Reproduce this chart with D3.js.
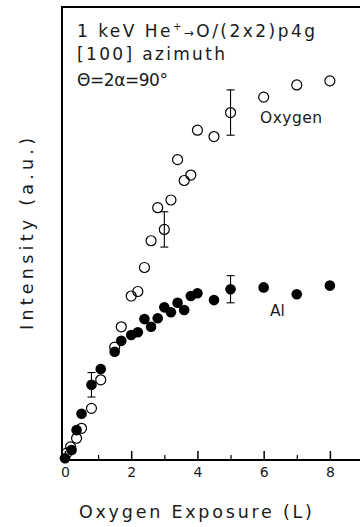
<!DOCTYPE html>
<html>
<head>
<meta charset="utf-8">
<script src="https://cdn.jsdelivr.net/npm/d3@7"></script>
<style>
  body { margin: 0; background: #fff; }
  svg { display: block; }
  text { font-family: "DejaVu Sans", sans-serif; fill: #1a1a1a; }
</style>
</head>
<body>
<svg id="chart"></svg>
<script>
// -- DATA --
// oxygen signal (open circles)
const oxygenExposure = [0.05, 0.17, 0.35, 0.5, 0.8, 1.08, 1.5, 1.7, 2.0, 2.2, 2.4, 2.6, 2.8, 3.0, 3.2, 3.4, 3.6, 3.8, 4.0, 4.5, 5.0, 6.0, 7.0, 8.0];
const oxygenIntensity = [1.5, 2.9, 4.8, 7.0, 11.4, 17.7, 24.9, 29.4, 36.2, 37.2, 42.5, 48.4, 55.7, 50.9, 57.4, 66.3, 61.7, 62.9, 72.8, 71.4, 76.7, 80.1, 82.8, 83.7];
// aluminium signal (filled circles)
const alExposure = [0, 0.2, 0.35, 0.5, 0.8, 1.08, 1.5, 1.7, 2.0, 2.2, 2.4, 2.6, 2.8, 3.0, 3.2, 3.4, 3.6, 3.8, 4.0, 4.5, 5.0, 6.0, 7.0, 8.0];
const alIntensity = [0.4, 2.2, 6.6, 10.2, 16.6, 20.1, 23.9, 26.3, 27.6, 28.2, 31.1, 29.4, 31.3, 33.7, 32.6, 34.7, 33.1, 36.2, 36.8, 35.3, 37.7, 38.1, 36.6, 38.5];
// error bars: [exposure, intensity, half-height]
const oxygenErrors = [[3.0, 50.9, 3.9], [5.0, 76.7, 5.0]];
const alErrors = [[0.8, 16.6, 2.7], [5.0, 37.7, 3.0]];
const majorTicks = [0, 2, 4, 6, 8];
const minorTicks = [1, 3, 5, 7, 9];

// -- LAYOUT --
const W = 360, H = 527;
const svg = d3.select("#chart").attr("width", W).attr("height", H);

const x = d3.scaleLinear().domain([-0.09, 9]).range([62, 363]);
const y = d3.scaleLinear().domain([0, 100]).range([460, 7]);

// frame
svg.append("rect")
  .attr("x", x(-0.09)).attr("y", y(100))
  .attr("width", x(9) - x(-0.09)).attr("height", y(0) - y(100))
  .attr("fill", "none").attr("stroke", "#000").attr("stroke-width", 2);

// x axis, ticks inward
const axisG = svg.append("g").attr("transform", `translate(0,${y(0)})`);
axisG.call(d3.axisBottom(x).tickValues(majorTicks).tickSize(-9).tickPadding(7).tickFormat(d3.format("d")))
  .call(g => g.select(".domain").remove());
axisG.selectAll("line").attr("stroke-width", 1.5);
axisG.selectAll("text").style("font-family", "DejaVu Sans").style("font-size", "14px").attr("fill", "#1a1a1a");
svg.append("g").attr("transform", `translate(0,${y(0)})`)
  .call(d3.axisBottom(x).tickValues(minorTicks).tickSize(-5).tickFormat(""))
  .call(g => g.select(".domain").remove())
  .selectAll("line").attr("stroke-width", 1.2);

// axis titles
svg.append("text")
  .attr("x", (x(0) + x(8)) / 2 - 2).attr("y", 518)
  .attr("text-anchor", "middle")
  .attr("textLength", 233).attr("lengthAdjust", "spacing")
  .style("font-size", "17.5px")
  .text("Oxygen Exposure (L)");
svg.append("text")
  .attr("transform", `translate(33,${(138 + 330) / 2}) rotate(-90)`)
  .attr("text-anchor", "middle")
  .attr("textLength", 192).attr("lengthAdjust", "spacing")
  .style("font-size", "17.5px")
  .text("Intensity (a.u.)");

// annotation block
const t1 = svg.append("text").attr("x", 77).attr("y", 37).style("font-size", "17px")
  .attr("textLength", 238).attr("lengthAdjust", "spacing");
t1.append("tspan").text("1 keV He");
t1.append("tspan").attr("dy", -7).style("font-size", "10px").text("+");
t1.append("tspan").attr("dy", 7).style("font-size", "12px").text("\u2192");
t1.append("tspan").text("O/(2x2)p4g");
svg.append("text").attr("x", 77).attr("y", 60).style("font-size", "17px")
  .attr("textLength", 148).attr("lengthAdjust", "spacing").text("[100] azimuth");
svg.append("text").attr("x", 77).attr("y", 86).style("font-size", "17px")
  .attr("textLength", 91).attr("lengthAdjust", "spacing").text("\u0398=2\u03b1=90\u00b0");

// series labels
svg.append("text").attr("x", 260).attr("y", 123).style("font-size", "15.5px")
  .attr("textLength", 62).attr("lengthAdjust", "spacing").text("Oxygen");
svg.append("text").attr("x", 270).attr("y", 316).style("font-size", "15.5px").text("Al");

// error bars
const drawErrors = (list) => {
  const g = svg.append("g").attr("stroke", "#000").attr("stroke-width", 1.1);
  list.forEach(([ex, iv, e]) => {
    g.append("line").attr("x1", x(ex)).attr("x2", x(ex)).attr("y1", y(iv - e)).attr("y2", y(iv + e));
    [iv - e, iv + e].forEach(v => {
      g.append("line").attr("x1", x(ex) - 4).attr("x2", x(ex) + 4).attr("y1", y(v)).attr("y2", y(v));
    });
  });
};
drawErrors(oxygenErrors);
drawErrors(alErrors);

// points: open oxygen first, filled Al on top
svg.append("g").selectAll("circle")
  .data(d3.zip(oxygenExposure, oxygenIntensity))
  .enter().append("circle")
  .attr("cx", d => x(d[0])).attr("cy", d => y(d[1])).attr("r", 5)
  .attr("fill", "none").attr("stroke", "#000").attr("stroke-width", 1.2);
svg.append("g").selectAll("circle")
  .data(d3.zip(alExposure, alIntensity))
  .enter().append("circle")
  .attr("cx", d => x(d[0])).attr("cy", d => y(d[1])).attr("r", 5.3)
  .attr("fill", "#000");
</script>
</body>
</html>
